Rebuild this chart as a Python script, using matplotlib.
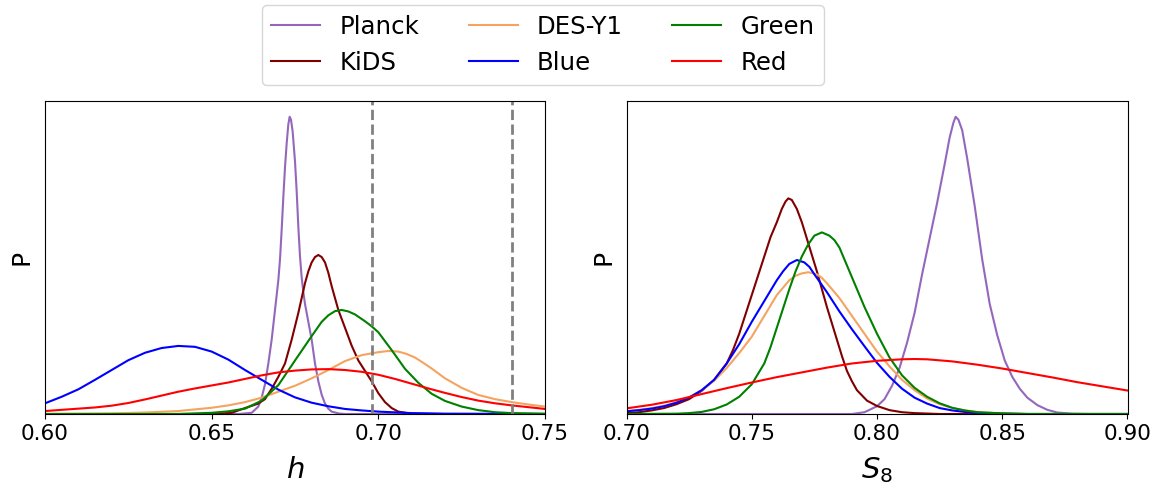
import matplotlib
matplotlib.use("Agg")
import matplotlib.pyplot as plt

# ---------------- data: left panel (h) ----------------
h_planck = [0.600, 0.658, 0.662, 0.664, 0.665, 0.666, 0.667, 0.668, 0.669, 0.670, 0.6705, 0.671, 0.6715,
            0.672, 0.6725, 0.673, 0.6734, 0.6738, 0.6743, 0.675, 0.6755, 0.676, 0.6765, 0.677, 0.6775,
            0.678, 0.679, 0.680, 0.681, 0.682, 0.683, 0.684, 0.685, 0.686, 0.688, 0.690, 0.750]
p_planck_h = [0.0, 0.0, 0.004, 0.025, 0.055, 0.10, 0.17, 0.25, 0.35, 0.45, 0.52, 0.62, 0.73,
              0.83, 0.91, 0.975, 1.0, 0.99, 0.95, 0.85, 0.75, 0.63, 0.53, 0.46, 0.41,
              0.37, 0.31, 0.25, 0.17, 0.11, 0.065, 0.035, 0.018, 0.008, 0.002, 0.0, 0.0]

h_kids = [0.600, 0.650, 0.656, 0.660, 0.664, 0.666, 0.668, 0.670, 0.672, 0.674, 0.676, 0.678, 0.679,
          0.680, 0.681, 0.682, 0.683, 0.684, 0.685, 0.686, 0.687, 0.688, 0.690, 0.692, 0.694, 0.696,
          0.698, 0.700, 0.702, 0.704, 0.706, 0.710, 0.720, 0.750]
p_kids_h = [0.0, 0.0, 0.004, 0.02, 0.035, 0.05, 0.085, 0.125, 0.17, 0.25, 0.34, 0.44, 0.48,
            0.51, 0.528, 0.535, 0.528, 0.51, 0.475, 0.43, 0.39, 0.35, 0.29, 0.23, 0.18, 0.145,
            0.11, 0.07, 0.04, 0.02, 0.008, 0.001, 0.0, 0.0]

h_des = [0.600, 0.610, 0.620, 0.630, 0.640, 0.650, 0.655, 0.660, 0.665, 0.670, 0.675, 0.680, 0.685,
         0.690, 0.695, 0.700, 0.703, 0.706, 0.7085, 0.711, 0.7135, 0.716, 0.720, 0.725, 0.730, 0.735,
         0.740, 0.745, 0.750]
p_des_h = [0.0, 0.001, 0.002, 0.005, 0.010, 0.021, 0.029, 0.040, 0.055, 0.075, 0.095, 0.12, 0.148,
           0.178, 0.198, 0.208, 0.212, 0.21, 0.202, 0.19, 0.172, 0.153, 0.12, 0.088, 0.064, 0.05,
           0.04, 0.032, 0.025]

h_blue = [0.600, 0.605, 0.610, 0.615, 0.620, 0.625, 0.630, 0.635, 0.640, 0.645, 0.650, 0.655, 0.660,
          0.665, 0.670, 0.675, 0.680, 0.685, 0.690, 0.695, 0.700, 0.710, 0.720, 0.750]
p_blue_h = [0.036, 0.058, 0.083, 0.115, 0.148, 0.181, 0.206, 0.222, 0.229, 0.226, 0.21, 0.183, 0.148,
            0.115, 0.082, 0.056, 0.038, 0.026, 0.017, 0.012, 0.008, 0.003, 0.001, 0.0]

h_green = [0.600, 0.640, 0.650, 0.655, 0.660, 0.665, 0.670, 0.675, 0.680, 0.683, 0.685, 0.687, 0.689,
           0.691, 0.693, 0.696, 0.698, 0.700, 0.704, 0.708, 0.712, 0.716, 0.720, 0.725, 0.730, 0.735,
           0.740, 0.750]
p_green_h = [0.0, 0.0, 0.004, 0.009, 0.018, 0.045, 0.097, 0.180, 0.262, 0.31, 0.332, 0.346, 0.35,
             0.345, 0.335, 0.312, 0.295, 0.275, 0.215, 0.152, 0.105, 0.068, 0.044, 0.025, 0.013, 0.006,
             0.003, 0.001]

h_red = [0.600, 0.605, 0.610, 0.615, 0.620, 0.625, 0.630, 0.635, 0.640, 0.645, 0.650, 0.655, 0.660,
         0.665, 0.670, 0.675, 0.680, 0.685, 0.690, 0.695, 0.700, 0.705, 0.710, 0.715, 0.720, 0.725,
         0.730, 0.735, 0.740, 0.745, 0.750]
p_red_h = [0.010, 0.014, 0.018, 0.022, 0.028, 0.037, 0.049, 0.062, 0.075, 0.086, 0.096, 0.106, 0.118,
           0.130, 0.140, 0.146, 0.150, 0.151, 0.148, 0.142, 0.132, 0.118, 0.102, 0.086, 0.071, 0.057,
           0.045, 0.036, 0.029, 0.023, 0.017]

h_ref_lines = [0.698, 0.740]

# ---------------- data: right panel (S8) ----------------
s_planck = [0.700, 0.790, 0.795, 0.800, 0.803, 0.806, 0.809, 0.812, 0.815, 0.818, 0.821, 0.824, 0.8255,
            0.827, 0.829, 0.8305, 0.8314, 0.8325, 0.834, 0.836, 0.8375, 0.839, 0.842, 0.845, 0.848,
            0.851, 0.854, 0.857, 0.860, 0.864, 0.868, 0.872, 0.878, 0.885, 0.900]
p_planck_s = [0.0, 0.0, 0.006, 0.026, 0.05, 0.095, 0.155, 0.24, 0.34, 0.47, 0.59, 0.71, 0.775,
              0.84, 0.93, 0.98, 1.0, 0.99, 0.955, 0.86, 0.78, 0.70, 0.52, 0.37, 0.265,
              0.18, 0.125, 0.085, 0.055, 0.03, 0.014, 0.005, 0.001, 0.0, 0.0]

s_kids = [0.700, 0.705, 0.710, 0.715, 0.720, 0.725, 0.730, 0.735, 0.740, 0.7425, 0.745, 0.7475, 0.750,
          0.7525, 0.755, 0.7575, 0.760, 0.762, 0.7635, 0.7646, 0.766, 0.768, 0.770, 0.772, 0.774,
          0.776, 0.778, 0.780, 0.782, 0.784, 0.786, 0.788, 0.790, 0.792, 0.796, 0.800, 0.805,
          0.810, 0.815, 0.825, 0.900]
p_kids_s = [0.003, 0.006, 0.012, 0.02, 0.033, 0.05, 0.078, 0.115, 0.17, 0.215, 0.27, 0.335, 0.40,
            0.465, 0.53, 0.595, 0.645, 0.69, 0.715, 0.7255, 0.72, 0.69, 0.645, 0.59, 0.535,
            0.48, 0.42, 0.36, 0.305, 0.25, 0.195, 0.145, 0.11, 0.08, 0.045, 0.027, 0.013,
            0.006, 0.003, 0.0, 0.0]

s_des = [0.700, 0.705, 0.710, 0.715, 0.720, 0.725, 0.730, 0.735, 0.740, 0.745, 0.750, 0.755, 0.760,
         0.765, 0.7675, 0.770, 0.7726, 0.776, 0.778, 0.780, 0.7825, 0.785, 0.790, 0.795, 0.800, 0.805,
         0.810, 0.815, 0.820, 0.825, 0.830, 0.835, 0.840, 0.850, 0.860, 0.900]
p_des_s = [0.010, 0.014, 0.02, 0.028, 0.04, 0.057, 0.08, 0.112, 0.155, 0.205, 0.26, 0.33, 0.40,
           0.45, 0.465, 0.473, 0.477, 0.47, 0.458, 0.44, 0.415, 0.39, 0.33, 0.27, 0.21, 0.16,
           0.115, 0.08, 0.052, 0.033, 0.02, 0.012, 0.007, 0.002, 0.0, 0.0]

s_blue = [0.700, 0.705, 0.710, 0.715, 0.720, 0.725, 0.730, 0.735, 0.740, 0.745, 0.750, 0.755, 0.760,
          0.7625, 0.765, 0.768, 0.771, 0.773, 0.775, 0.7775, 0.780, 0.785, 0.790, 0.795, 0.800, 0.805,
          0.810, 0.815, 0.820, 0.825, 0.830, 0.835, 0.840, 0.850, 0.860, 0.900]
p_blue_s = [0.009, 0.013, 0.018, 0.026, 0.038, 0.055, 0.08, 0.115, 0.17, 0.235, 0.31, 0.38, 0.45,
            0.48, 0.505, 0.518, 0.51, 0.495, 0.47, 0.44, 0.41, 0.345, 0.285, 0.228, 0.172, 0.125,
            0.085, 0.055, 0.035, 0.02, 0.012, 0.007, 0.004, 0.001, 0.0, 0.0]

s_green = [0.700, 0.720, 0.725, 0.730, 0.735, 0.740, 0.745, 0.750, 0.755, 0.7575, 0.760, 0.7625, 0.765,
           0.7675, 0.770, 0.7725, 0.775, 0.778, 0.781, 0.783, 0.785, 0.7875, 0.790, 0.795, 0.800,
           0.805, 0.810, 0.815, 0.820, 0.825, 0.830, 0.835, 0.840, 0.850, 0.860, 0.900]
p_green_s = [0.0, 0.001, 0.003, 0.007, 0.016, 0.032, 0.058, 0.10, 0.17, 0.225, 0.29, 0.355, 0.42,
             0.48, 0.53, 0.57, 0.60, 0.611, 0.60, 0.585, 0.56, 0.51, 0.46, 0.36, 0.27,
             0.19, 0.13, 0.088, 0.058, 0.036, 0.021, 0.012, 0.006, 0.002, 0.0, 0.0]

s_red = [0.700, 0.710, 0.720, 0.730, 0.740, 0.750, 0.760, 0.770, 0.780, 0.790, 0.800, 0.810, 0.815,
         0.820, 0.830, 0.840, 0.850, 0.860, 0.870, 0.880, 0.890, 0.900]
p_red_s = [0.019, 0.031, 0.047, 0.067, 0.087, 0.106, 0.124, 0.14, 0.156, 0.17, 0.179, 0.184, 0.185,
           0.184, 0.177, 0.166, 0.153, 0.138, 0.123, 0.107, 0.093, 0.079]

labels = ["Planck", "KiDS", "DES-Y1", "Blue", "Green", "Red"]
colors = ["#9467bd", "#800000", "#f4a460", "blue", "green", "red"]

left_series = [(h_planck, p_planck_h), (h_kids, p_kids_h), (h_des, p_des_h),
               (h_blue, p_blue_h), (h_green, p_green_h), (h_red, p_red_h)]
right_series = [(s_planck, p_planck_s), (s_kids, p_kids_s), (s_des, p_des_s),
                (s_blue, p_blue_s), (s_green, p_green_s), (s_red, p_red_s)]

W, H = 1158, 492
fig = plt.figure(figsize=(W / 100, H / 100), dpi=100)
ax1 = fig.add_axes([45 / W, 1 - 414 / H, 500 / W, 313 / H])
ax2 = fig.add_axes([626.5 / W, 1 - 414 / H, 501 / W, 313 / H])

handles = []
for (x, y), lab, c in zip(left_series, labels, colors):
    ln, = ax1.plot(x, y, color=c, lw=1.5, label=lab)
    handles.append(ln)
for xv in h_ref_lines:
    ax1.axvline(xv, color="gray", ls="--", lw=2)
for (x, y), lab, c in zip(right_series, labels, colors):
    ax2.plot(x, y, color=c, lw=1.5)

ax1.set_xlim(0.60, 0.75)
ax2.set_xlim(0.70, 0.90)
ax1.set_xticks([0.60, 0.65, 0.70, 0.75])
ax2.set_xticks([0.70, 0.75, 0.80, 0.85, 0.90])
for ax in (ax1, ax2):
    ax.set_ylim(0, 1.053)
    ax.set_yticks([])
    ax.tick_params(axis="x", labelsize=15.6)
    ax.set_ylabel("P", fontsize=18, labelpad=8)
ax1.set_xlabel(r"$h$", fontsize=21, labelpad=9)
ax2.set_xlabel(r"$S_8$", fontsize=21, labelpad=8)

fig.legend(handles=handles, labels=labels, ncol=3, loc="upper center",
           bbox_to_anchor=(543 / W, 1 - 5 / H), borderaxespad=0,
           fontsize=17.6, frameon=True)

fig.savefig("out.png", dpi=100)
